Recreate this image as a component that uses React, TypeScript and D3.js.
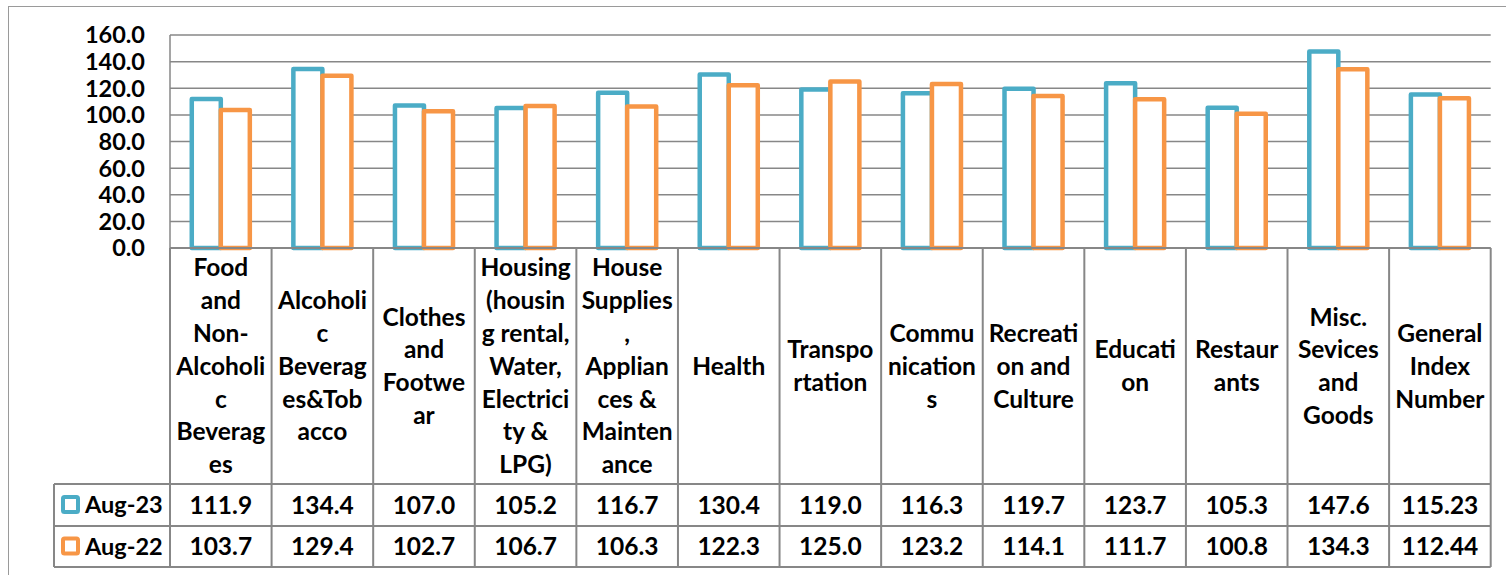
import React, { useEffect, useRef } from "react";
import * as d3 from "d3";

// category labels, line breaks as they wrap in the original
const categories = [
  ["Food", "and", "Non-", "Alcoholi", "c", "Beverag", "es"],
  ["Alcoholi", "c", "Beverag", "es&Tob", "acco"],
  ["Clothes", "and", "Footwe", "ar"],
  ["Housing", "(housin", "g rental,", "Water,", "Electrici", "ty &", "LPG)"],
  ["House", "Supplies", ",", "Applian", "ces &", "Mainten", "ance"],
  ["Health"],
  ["Transpo", "rtation"],
  ["Commu", "nication", "s"],
  ["Recreati", "on and", "Culture"],
  ["Educati", "on"],
  ["Restaur", "ants"],
  ["Misc.", "Sevices", "and", "Goods"],
  ["General", "Index", "Number"],
];

const aug23 = [111.9, 134.4, 107.0, 105.2, 116.7, 130.4, 119.0, 116.3, 119.7, 123.7, 105.3, 147.6, 115.23];
const aug22 = [103.7, 129.4, 102.7, 106.7, 106.3, 122.3, 125.0, 123.2, 114.1, 111.7, 100.8, 134.3, 112.44];
const aug23Labels = ["111.9", "134.4", "107.0", "105.2", "116.7", "130.4", "119.0", "116.3", "119.7", "123.7", "105.3", "147.6", "115.23"];
const aug22Labels = ["103.7", "129.4", "102.7", "106.7", "106.3", "122.3", "125.0", "123.2", "114.1", "111.7", "100.8", "134.3", "112.44"];
const seriesNames = ["Aug-23", "Aug-22"];
const yTicks = [0, 20, 40, 60, 80, 100, 120, 140, 160];

const BLUE = "#4BACC6";
const ORANGE = "#F79646";
const GRID = "#878787";
const FONT = "Lato, 'Open Sans', sans-serif";
const FS = "24.5px";

const App = () => {
  const ref = useRef<SVGSVGElement>(null);

  useEffect(() => {
    const W = 1506;
    const H = 575;
    const left = 170;
    const right = 1490.7;
    const top = 35;
    const bottom = 248;
    const catBottom = 484;
    const row1Bottom = 526;
    const row2Bottom = 567;
    const legendLeft = 54;

    const svg = d3.select(ref.current);
    svg.selectAll("*").remove();
    svg.attr("width", W).attr("height", H);

    // outer chart border
    svg
      .append("rect")
      .attr("x", 8.5)
      .attr("y", 6.5)
      .attr("width", W)
      .attr("height", H)
      .attr("fill", "white")
      .attr("stroke", "#9a9a9a")
      .attr("stroke-width", 1);

    const x = d3
      .scaleBand<number>()
      .domain(d3.range(categories.length))
      .range([left, right]);
    const y = d3.scaleLinear().domain([0, 160]).range([bottom, top]);

    // gridlines
    svg
      .append("g")
      .selectAll("line")
      .data(yTicks)
      .enter()
      .append("line")
      .attr("x1", left)
      .attr("x2", right)
      .attr("y1", (d) => y(d))
      .attr("y2", (d) => y(d))
      .attr("stroke", GRID)
      .attr("stroke-width", 1.5);

    svg
      .append("line")
      .attr("x1", left)
      .attr("x2", left)
      .attr("y1", top)
      .attr("y2", bottom)
      .attr("stroke", GRID)
      .attr("stroke-width", 1.5);

    // y tick labels
    svg
      .append("g")
      .selectAll("text")
      .data(yTicks)
      .enter()
      .append("text")
      .attr("x", 145)
      .attr("y", (d) => y(d))
      .attr("dy", "0.36em")
      .attr("text-anchor", "end")
      .style("font-family", FONT)
      .style("font-weight", "700")
      .style("font-size", "23.5px")
      .text((d) => d3.format(".1f")(d));

    // bars (gap width 150%)
    const bw = x.bandwidth() / 3.5;
    const series = [aug23, aug22];
    const colors = [BLUE, ORANGE];
    series.forEach((vals, si) => {
      svg
        .append("g")
        .selectAll("rect")
        .data(vals)
        .enter()
        .append("rect")
        .attr("x", (d, i) => (x(i) as number) + bw * 0.75 + si * bw)
        .attr("y", (d) => y(d))
        .attr("width", bw)
        .attr("height", (d) => bottom - y(d))
        .attr("fill", "white")
        .attr("stroke", colors[si])
        .attr("stroke-width", 4.5)
        .attr("stroke-linejoin", "round");
    });

    // data table lines
    const tbl = svg.append("g").attr("stroke", GRID).attr("stroke-width", 2);
    tbl.append("line").attr("x1", left).attr("x2", right).attr("y1", bottom).attr("y2", bottom);
    [catBottom, row1Bottom, row2Bottom].forEach((yy) => {
      tbl.append("line").attr("x1", legendLeft).attr("x2", right).attr("y1", yy).attr("y2", yy);
    });
    tbl.append("line").attr("x1", legendLeft).attr("x2", legendLeft).attr("y1", catBottom).attr("y2", row2Bottom);
    tbl
      .selectAll("line.col")
      .data(d3.range(categories.length + 1))
      .enter()
      .append("line")
      .attr("class", "col")
      .attr("x1", (i) => left + i * x.step())
      .attr("x2", (i) => left + i * x.step())
      .attr("y1", bottom)
      .attr("y2", row2Bottom);

    // category labels
    const lineH = 32.8;
    const catMid = (bottom + catBottom) / 2;
    categories.forEach((lines, i) => {
      const cx = (x(i) as number) + x.bandwidth() / 2;
      const t = svg
        .append("text")
        .attr("text-anchor", "middle")
        .style("font-family", FONT)
        .style("font-weight", "700")
        .style("font-size", FS);
      lines.forEach((ln, j) => {
        t.append("tspan")
          .attr("x", cx)
          .attr("y", catMid + (j - (lines.length - 1) / 2) * lineH)
          .attr("dy", "0.36em")
          .text(ln);
      });
    });

    // value rows + legend keys
    const rows = [
      { labels: aug23Labels, mid: (catBottom + row1Bottom) / 2 },
      { labels: aug22Labels, mid: (row1Bottom + row2Bottom) / 2 },
    ];
    rows.forEach((r, si) => {
      svg
        .append("rect")
        .attr("x", 63)
        .attr("y", r.mid - 8)
        .attr("width", 15)
        .attr("height", 15)
        .attr("rx", 1.5)
        .attr("fill", "white")
        .attr("stroke", colors[si])
        .attr("stroke-width", 4);
      svg
        .append("text")
        .attr("x", 85)
        .attr("y", r.mid)
        .attr("dy", "0.36em")
        .style("font-family", FONT)
        .style("font-weight", "700")
        .style("font-size", "23.5px")
        .text(seriesNames[si]);
      svg
        .append("g")
        .selectAll("text")
        .data(r.labels)
        .enter()
        .append("text")
        .attr("x", (d, i) => (x(i) as number) + x.bandwidth() / 2)
        .attr("y", r.mid)
        .attr("dy", "0.36em")
        .attr("text-anchor", "middle")
        .style("font-family", FONT)
        .style("font-weight", "700")
        .style("font-size", FS)
        .text((d) => d);
    });
  }, []);

  return (
    <svg
      ref={ref}
      style={{ position: "absolute", left: 0, top: 0, display: "block" }}
    ></svg>
  );
};

export default App;
